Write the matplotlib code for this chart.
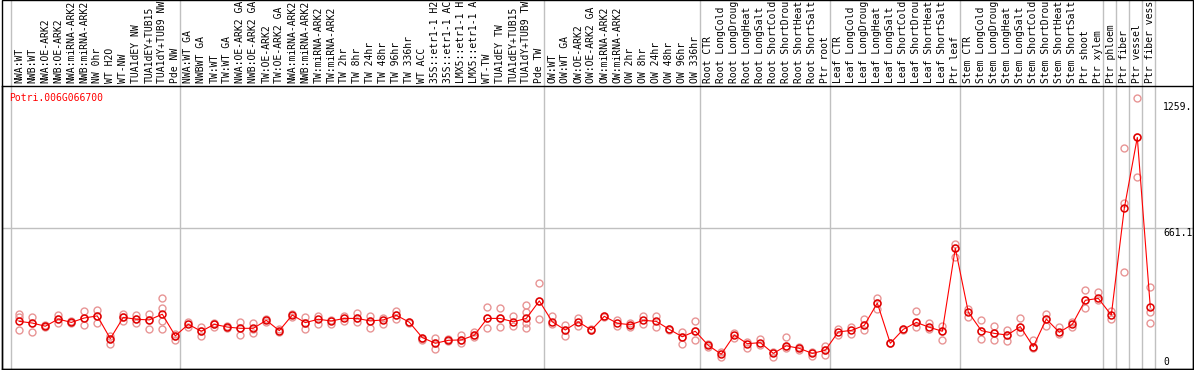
import matplotlib
matplotlib.use("Agg")
import matplotlib.pyplot as plt
from matplotlib.patches import Rectangle

plt.rcParams['font.family'] = ['DejaVu Sans Mono']

gene = 'Potri.006G066700'

samples = ['NWA:WT', 'NWB:WT', 'NWA:OE-ARK2', 'NWB:OE-ARK2', 'NWA:miRNA-ARK2',
           'NWB:miRNA-ARK2', 'NW 0hr', 'WT H2O', 'WT-NW', 'TUA1dEY NW',
           'TUA1dEY+TUB15', 'TUA1dY+TUB9 NW', 'Pde NW',
           'NWA:WT GA', 'NWBWT GA', 'TW:WT', 'TW:WT GA', 'NWA:OE-ARK2 GA',
           'NWB:OE-ARK2 GA', 'TW:OE-ARK2', 'TW:OE-ARK2 GA', 'NWA:miRNA-ARK2',
           'NWB:miRNA-ARK2', 'TW:miRNA-ARK2', 'TW:miRNA-ARK2', 'TW 2hr', 'TW 8hr',
           'TW 24hr', 'TW 48hr', 'TW 96hr', 'TW 336hr', 'WT ACC', '35S::etr1-1 H2',
           '35S::etr1-1 AC', 'LMX5::etr1-1 H', 'LMX5::etr1-1 A', 'WT-TW',
           'TUA1dEY TW', 'TUA1dEY+TUB15', 'TUA1dY+TUB9 TW', 'Pde TW',
           'OW:WT', 'OW:WT GA', 'OW:OE-ARK2', 'OW:OE-ARK2 GA', 'OW:miRNA-ARK2',
           'OW:miRNA-ARK2', 'OW 2hr', 'OW 8hr', 'OW 24hr', 'OW 48hr', 'OW 96hr',
           'OW 336hr',
           'Root CTR', 'Root LongCold', 'Root LongDroug', 'Root LongHeat',
           'Root LongSalt', 'Root ShortCold', 'Root ShortDrou', 'Root ShortHeat',
           'Root ShortSalt', 'Ptr root',
           'Leaf CTR', 'Leaf LongCold', 'Leaf LongDroug', 'Leaf LongHeat',
           'Leaf LongSalt', 'Leaf ShortCold', 'Leaf ShortDrou', 'Leaf ShortHeat',
           'Leaf ShortSalt', 'Ptr leaf',
           'Stem CTR', 'Stem LongCold', 'Stem LongDroug', 'Stem LongHeat',
           'Stem LongSalt', 'Stem ShortCold', 'Stem ShortDrou', 'Stem ShortHeat',
           'Stem ShortSalt', 'Ptr shoot', 'Ptr xylem',
           'Ptr phloem', 'Ptr fiber', 'Ptr vessel', 'Ptr fiber vess']

# first sample index of each block (separator drawn before it)
group_starts = [0, 13, 41, 53, 63, 73, 84, 85, 86, 87, 88]

means = [218, 210, 195, 229, 213, 234, 244, 136, 237, 228, 225, 252, 149,
         204, 171, 204, 191, 185, 185, 223, 174, 248, 212, 228, 220, 232, 232,
         220, 225, 247, 214, 141, 114, 128, 130, 152, 232, 232, 216, 232, 315,
         216, 177, 216, 177, 242, 209, 202, 223, 218, 180, 145, 171,
         104, 62, 153, 112, 117, 66, 102, 90, 66, 81,
         168, 175, 199, 305, 114, 180, 213, 190, 171, 565,
         262, 174, 161, 153, 193, 98, 229, 166, 204, 318, 327,
         248, 755, 1091, 285]

replicates = [[252, 241, 177], [237, 210, 166], [200, 190, 195], [248, 229, 210],
              [218, 213, 209], [269, 234, 201], [272, 243, 210], [149, 136, 111],
              [253, 237, 221], [248, 228, 211], [253, 225, 182], [327, 280, 220, 182],
              [158, 149, 130], [213, 193], [190, 171, 149], [212, 204, 193],
              [196, 187], [213, 185, 155], [210, 180, 165], [231, 217], [182, 168],
              [255, 240], [240, 212, 180], [245, 205], [225, 205], [242, 221],
              [256, 232, 215], [242, 220, 188], [232, 205], [269, 247, 228],
              [216, 212], [141, 133, 130], [141, 113, 85], [133, 124],
              [153, 130, 117], [169, 152, 145], [288, 232, 185], [280, 232, 190],
              [242, 196], [296, 263, 209, 185], [399, 315, 228], [242, 205],
              [201, 177, 149], [232, 196], [180, 175],
              [244, 240], [225, 196], [212, 190], [242, 205], [245, 193],
              [183, 177], [169, 145, 109], [220, 171, 130],
              [111, 95], [74, 50], [164, 138], [122, 90], [134, 106], [74, 50],
              [144, 102, 90], [98, 82], [74, 53], [103, 81, 58],
              [181, 154], [193, 157], [229, 199, 177], [330, 305, 275], [114, 114],
              [183, 178], [267, 213, 190], [212, 180], [196, 171, 130],
              [584, 565, 525],
              [275, 237], [225, 174, 133], [196, 161, 130], [179, 153, 125],
              [233, 193, 166], [130, 98, 90], [252, 229, 198], [190, 158],
              [216, 193], [367, 318, 283], [356, 318],
              [269, 228], [1040, 781, 451], [1276, 1091, 905], [380, 262, 209]]

ytick_values = [0, 661.1, 1259]
ytick_labels = ['0', '661.1', '1259.']

fig = plt.figure(figsize=(11.94, 3.70), dpi=100)
W, H = 1194.0, 370.0
# plot box in pixels: x 1.5..1192.5, y 85.5..368.5 (from top)
ax = fig.add_axes([1.5 / W, (H - 368.5) / H, 1191 / W, (368.5 - 85.5) / H])
ax.set_xlim((1.5 - 19.3) / 13, (1192.5 - 19.3) / 13)
ax.set_ylim(-5.7, 1337.4)
ax.set_xticks([])
ax.set_yticks([])
for s in ax.spines.values():
    s.set_linewidth(1.0)
    s.set_color('black')

# grey separators, running up through the header
top_frac = 368.5 / 283.0
for g in group_starts:
    ax.axvline(g - 0.64, ymin=0, ymax=top_frac, color='#c0c0c0', lw=1.0,
               clip_on=False, zorder=1)
ax.axhline(661.1, color='#c0c0c0', lw=1.0, zorder=1)

# replicate points
for i, reps in enumerate(replicates):
    ax.plot([i] * len(reps), reps, 'o', ms=5.0, mfc='none', mec='#e89595',
            mew=1.0, zorder=2)

# mean line
xs = list(range(len(means)))
ax.plot(xs, means, '-', color='red', lw=0.8, zorder=3)
ax.plot(xs, means, 'o', ms=5.0, mfc='none', mec='#e00000', mew=1.1, zorder=4)

# value labels on the right
label_x = (1163 - 19.3) / 13
for v, t in zip(ytick_values, ytick_labels):
    ax.text(label_x, v, t, fontsize=7, va='bottom' if v == 0 else 'top',
            ha='left', color='black')

ax.text(8 / 1191, 1 - 7 / 283, gene, transform=ax.transAxes, color='red',
        fontsize=7, va='top', ha='left')

# sample names in the header
for i, name in enumerate(samples):
    ax.annotate(name, xy=(i, 1), xycoords=('data', 'axes fraction'),
                xytext=(0, 1.5), textcoords='offset points', rotation=90,
                ha='center', va='bottom', fontsize=7, annotation_clip=False)

fig.add_artist(Rectangle((1.5 / W, (H - 368.5) / H), 1191 / W, 368.5 / H,
                         transform=fig.transFigure, fill=False, lw=1.0,
                         ec='black'))

fig.savefig('out.png', dpi=100)
